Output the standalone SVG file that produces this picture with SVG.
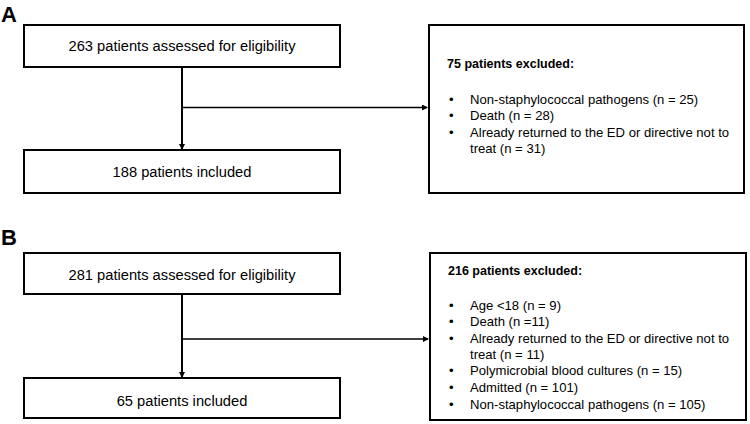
<svg xmlns="http://www.w3.org/2000/svg" width="750" height="424" viewBox="0 0 750 424">
<style>
.box{fill:#fff;stroke:#000;stroke-width:2}
.t{font-family:"Liberation Sans",Arial,sans-serif;font-size:13.1px;fill:#000}
.m{font-family:"Liberation Sans",Arial,sans-serif;font-size:14.7px;fill:#000;text-anchor:middle}
.b{font-weight:bold;font-size:12.5px}
.lbl{font-family:"Liberation Sans",Arial,sans-serif;font-size:22px;font-weight:bold;fill:#000}
.ln{stroke:#000;fill:none}
</style>
<defs>
<marker id="ah" markerWidth="6" markerHeight="6" refX="5" refY="3" orient="auto" markerUnits="userSpaceOnUse">
<path d="M0,0 L6,3 L0,6 Z" fill="#000"/>
</marker>
</defs>
<rect width="750" height="424" fill="#fff"/>
<text class="lbl" x="1" y="22">A</text>
<text class="lbl" x="1" y="245">B</text>
<g id="connectors">
<line class="ln" x1="182" y1="67" x2="182" y2="149" stroke-width="2" marker-end="url(#ah)"/>
<line class="ln" x1="182" y1="107.5" x2="427" y2="107.5" stroke-width="1.5" marker-end="url(#ah)"/>
<line class="ln" x1="182" y1="294" x2="182" y2="377" stroke-width="2" marker-end="url(#ah)"/>
<line class="ln" x1="182" y1="339" x2="428" y2="339" stroke-width="1.5" marker-end="url(#ah)"/>
</g>
<g id="a-assessed">
<rect class="box" x="24" y="25" width="316" height="42"/>
<text class="m" x="182" y="51">263 patients assessed for eligibility</text>
</g>
<g id="a-included">
<rect class="box" x="24" y="150" width="316" height="43"/>
<text class="m" x="182" y="176.5">188 patients included</text>
</g>
<g id="a-excluded">
<rect class="box" x="429" y="25" width="315" height="168"/>
<text class="t b" x="447" y="68">75 patients excluded:</text>
<text class="t" x="449" y="103.5">•</text><text class="t" x="470" y="103.5">Non-staphylococcal pathogens (n = 25)</text>
<text class="t" x="449" y="120">•</text><text class="t" x="470" y="120">Death (n = 28)</text>
<text class="t" x="449" y="136.5">•</text><text class="t" x="470" y="136.5">Already returned to the ED or directive not to</text>
<text class="t" x="470" y="152.5">treat (n = 31)</text>
</g>
<g id="b-assessed">
<rect class="box" x="24" y="253" width="316" height="41"/>
<text class="m" x="182" y="279.5">281 patients assessed for eligibility</text>
</g>
<g id="b-included">
<rect class="box" x="24" y="378" width="316" height="40"/>
<text class="m" x="182" y="405.5">65 patients included</text>
</g>
<g id="b-excluded">
<rect class="box" x="430" y="253" width="316" height="167"/>
<text class="t b" x="448" y="275">216 patients excluded:</text>
<text class="t" x="449" y="309.5">•</text><text class="t" x="470" y="309.5">Age &lt;18 (n = 9)</text>
<text class="t" x="449" y="326">•</text><text class="t" x="470" y="326">Death (n =11)</text>
<text class="t" x="449" y="342.5">•</text><text class="t" x="470" y="342.5">Already returned to the ED or directive not to</text>
<text class="t" x="470" y="358.5">treat (n = 11)</text>
<text class="t" x="449" y="375">•</text><text class="t" x="470" y="375">Polymicrobial blood cultures (n = 15)</text>
<text class="t" x="449" y="391.5">•</text><text class="t" x="470" y="391.5">Admitted (n = 101)</text>
<text class="t" x="449" y="409">•</text><text class="t" x="470" y="409">Non-staphylococcal pathogens (n = 105)</text>
</g>
</svg>
